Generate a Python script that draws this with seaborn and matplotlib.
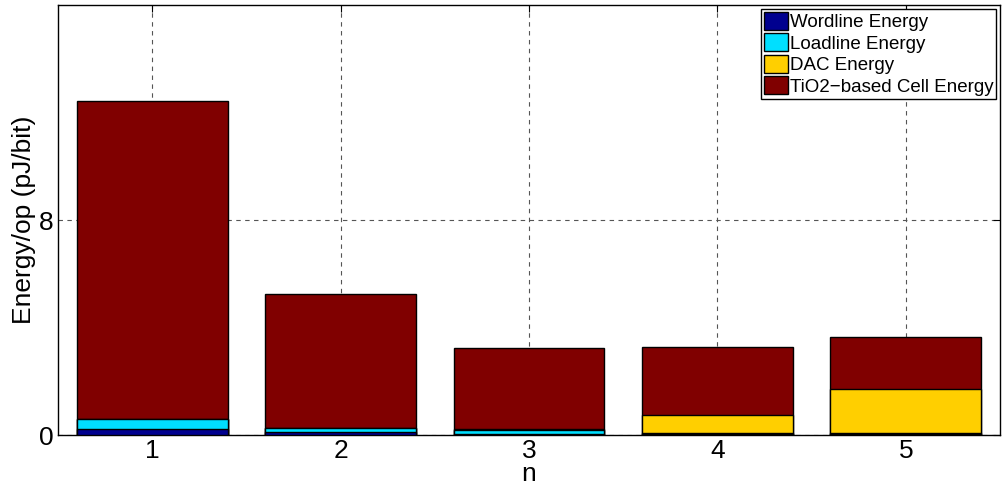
import numpy as np
import pandas as pd
import matplotlib
matplotlib.use("Agg")
import matplotlib.pyplot as plt
import seaborn as sns
from matplotlib.patches import Patch

categories = ["1", "2", "3", "4", "5"]
wordline = [0.22, 0.10, 0.05, 0.04, 0.03]
loadline = [0.36, 0.16, 0.12, 0.05, 0.04]
dac = [0.00, 0.00, 0.06, 0.64, 1.63]
cell = [11.85, 4.99, 3.01, 2.54, 1.95]

series_names = ["Wordline Energy", "Loadline Energy", "DAC Energy", "TiO2\u2212based Cell Energy"]
colors = ["#00008F", "#00DFFF", "#FFCF00", "#800000"]

sns.set_theme(style="white")
plt.rcParams['font.family'] = ['Liberation Sans', 'DejaVu Sans']
plt.rcParams['text.color'] = 'black'
plt.rcParams['axes.labelcolor'] = 'black'
plt.rcParams['xtick.color'] = 'black'
plt.rcParams['ytick.color'] = 'black'

fig = plt.figure(figsize=(10.03, 4.91), dpi=100)
ax = fig.add_axes([0.0578, 0.114, 0.997 - 0.0578, 0.9898 - 0.114])

layers = [wordline, loadline, dac, cell]
cum = np.cumsum(np.array(layers), axis=0)
# draw from top layer down so lower layers overlay
for i in range(len(layers) - 1, -1, -1):
    df = pd.DataFrame({"n": categories, "val": cum[i]})
    sns.barplot(data=df, x="n", y="val", order=categories, color=colors[i],
                saturation=1, width=0.8, edgecolor="black", linewidth=1.0,
                ax=ax, zorder=3)

ax.set_xlim(-0.5, 4.5)
ax.set_ylim(0, 16)
ax.set_yticks([0, 8])
ax.set_yticklabels(["0", "8"])
ax.set_xlabel("n", fontsize=19, labelpad=-1)
ax.set_ylabel("Energy/op (pJ/bit)", fontsize=19, labelpad=2)
ax.tick_params(axis="both", labelsize=19, direction="in", length=5,
               top=True, right=True, width=0.8, color="black", pad=3)
ax.grid(True, linestyle=(0, (4, 4)), color="#555555", linewidth=0.8, zorder=0)
ax.set_axisbelow(True)
for s in ax.spines.values():
    s.set_color("black")
    s.set_linewidth(1.0)

handles = [Patch(facecolor=c, edgecolor="black", label=l) for c, l in zip(colors, series_names)]
leg = ax.legend(handles=handles, loc="upper right", fontsize=13.5, frameon=True,
                fancybox=False, framealpha=1, edgecolor="black",
                borderpad=0.15, labelspacing=0.12, handlelength=1.3, handleheight=1.1,
                handletextpad=0.1, borderaxespad=0.2)
leg.get_frame().set_linewidth(1.0)

fig.savefig("out.png", dpi=100)
